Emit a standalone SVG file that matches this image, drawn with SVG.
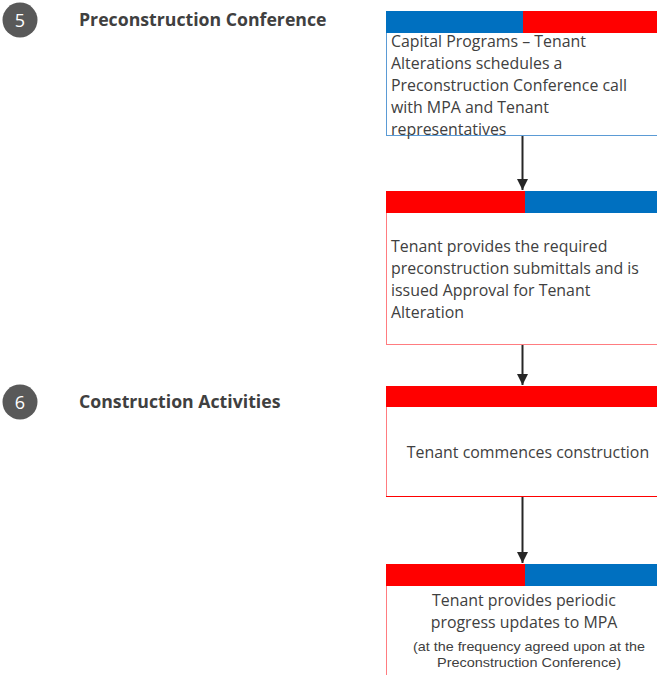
<svg xmlns="http://www.w3.org/2000/svg" width="657" height="675" viewBox="0 0 657 675">
<defs>
<marker id="arr" markerWidth="12" markerHeight="11" refX="11" refY="5.5" orient="auto" markerUnits="userSpaceOnUse">
<path d="M0,0 L11,5.5 L0,11 Z" fill="#262626"/>
</marker>
</defs>
<style>
.t{font-family:"Open Sans","Liberation Sans",sans-serif;fill:#404040;font-size:15.9px}
.h{font-family:"Open Sans","Liberation Sans",sans-serif;fill:#404040;font-size:17.7px;font-weight:bold}
.n{font-family:"Open Sans","Liberation Sans",sans-serif;fill:#ffffff;font-size:18px;text-anchor:middle}
.s{font-family:"Liberation Sans",Arial,sans-serif;fill:#404040;font-size:12.8px;text-anchor:middle}
.c{text-anchor:middle}
.blue{fill:#0070c0}
.red{fill:#ff0000}
.line{stroke:#262626;stroke-width:2;fill:none}
</style>
<rect width="657" height="675" fill="#ffffff"/>
<g id="step5">
<circle cx="20" cy="20" r="17.5" fill="#595959"/>
<text class="n" x="20" y="26.5">5</text>
<text class="h" x="79" y="26">Preconstruction Conference</text>
</g>
<g id="step6">
<circle cx="20" cy="402" r="17.5" fill="#595959"/>
<text class="n" x="20" y="408.5">6</text>
<text class="h" x="79" y="408">Construction Activities</text>
</g>
<g id="box1">
<rect x="386.5" y="11.5" width="275" height="124" fill="#ffffff" stroke="#5b9bd5" stroke-width="1"/>
<rect x="386" y="11" width="137" height="22" class="blue"/>
<rect x="523" y="11" width="134" height="22" class="red"/>
<text class="t" x="391" y="46.5">Capital Programs – Tenant</text>
<text class="t" x="391" y="68.5">Alterations schedules a</text>
<text class="t" x="391" y="90.5">Preconstruction Conference call</text>
<text class="t" x="391" y="112.5">with MPA and Tenant</text>
<text class="t" x="391" y="134.5">representatives</text>
</g>
<g id="box2">
<rect x="386.5" y="191.5" width="275" height="153" fill="#ffffff" stroke="#ff7c80" stroke-width="1"/>
<rect x="386" y="191" width="139" height="22" class="red"/>
<rect x="525" y="191" width="132" height="22" class="blue"/>
<text class="t" x="391" y="251.5">Tenant provides the required</text>
<text class="t" x="391" y="273.5">preconstruction submittals and is</text>
<text class="t" x="391" y="295.5">issued Approval for Tenant</text>
<text class="t" x="391" y="317.5">Alteration</text>
</g>
<g id="box3">
<rect x="386.5" y="386.5" width="275" height="110" fill="#ffffff" stroke="#ff7c80" stroke-width="1"/>
<line x1="386" y1="496.5" x2="657" y2="496.5" stroke="#ff0000" stroke-width="1"/>
<rect x="386" y="386" width="271" height="21" class="red"/>
<text class="t c" x="528" y="457.5">Tenant commences construction</text>
</g>
<g id="box4">
<rect x="386.5" y="564.5" width="275" height="120" fill="#ffffff" stroke="#ff7c80" stroke-width="1"/>
<rect x="386" y="564" width="139" height="22" class="red"/>
<rect x="525" y="564" width="132" height="22" class="blue"/>
<text class="t c" x="524" y="605.5">Tenant provides periodic</text>
<text class="t c" x="524" y="627.5">progress updates to MPA</text>
<text class="s" x="529" y="651" textLength="232" lengthAdjust="spacingAndGlyphs">(at the frequency agreed upon at the</text>
<text class="s" x="529" y="667" textLength="184" lengthAdjust="spacingAndGlyphs">Preconstruction Conference)</text>
</g>
<g id="connectors">
<line class="line" x1="522.5" y1="136" x2="522.5" y2="190" marker-end="url(#arr)"/>
<line class="line" x1="522.5" y1="345" x2="522.5" y2="385" marker-end="url(#arr)"/>
<line class="line" x1="522.5" y1="497" x2="522.5" y2="563" marker-end="url(#arr)"/>
</g>
</svg>
